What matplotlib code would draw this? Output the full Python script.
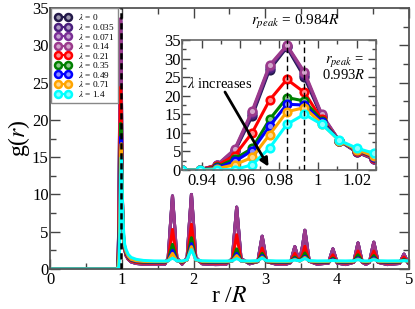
import matplotlib
matplotlib.use("Agg")
import matplotlib.pyplot as plt
from matplotlib.ticker import MultipleLocator, FuncFormatter
import matplotlib.colors as mcolors

plt.rcParams['font.family'] = ['Liberation Serif', 'DejaVu Serif']
plt.rcParams['mathtext.fontset'] = 'stix'

# ---------------- data ----------------
lambdas = ['0', '0.035', '0.071', '0.14', '0.21', '0.35', '0.49', '0.71', '1.4']
colors = ['#241a4a', '#4a1f7e', '#7a2f96', '#9b3a8c', '#ff0000', '#008000',
          '#0000ff', '#ffa500', '#00ffff']

# contact-peak region (inset), r/R
r_in = [0.930, 0.939, 0.948, 0.957, 0.966, 0.975, 0.984, 0.993, 1.002, 1.011, 1.020, 1.029]
g_in_0     = [0, 0.05, 1.2, 5.0, 14.5, 27.0, 33.0, 25.0, 14.3, 7.9, 4.8, 2.9]
g_in_0035  = [0, 0.05, 1.3, 5.2, 15.0, 27.5, 33.3, 25.6, 14.6, 7.9, 4.9, 3.0]
g_in_0071  = [0, 0.05, 1.35, 5.4, 15.5, 27.9, 33.5, 26.0, 14.8, 7.9, 5.0, 3.0]
g_in_014   = [0, 0.05, 1.4, 5.6, 15.9, 28.2, 33.6, 26.4, 15.0, 7.9, 5.0, 3.0]
g_in_021   = [0, 0.05, 1.2, 3.9, 10.0, 18.8, 24.4, 20.9, 13.6, 7.9, 5.2, 3.3]
g_in_035   = [0, 0.05, 0.8, 3.0, 5.8, 13.6, 19.5, 18.6, 13.3, 7.9, 5.3, 3.5]
g_in_049   = [0, 0.05, 0.6, 2.3, 5.2, 11.8, 17.7, 17.5, 13.0, 7.9, 5.4, 3.6]
g_in_071   = [0, 0.05, 0.4, 1.4, 3.4, 9.5, 15.7, 16.8, 12.5, 7.9, 5.5, 3.7]
g_in_14    = [0, 0.0, 0.1, 0.1, 1.4, 5.9, 12.3, 15.0, 12.3, 8.0, 5.9, 4.5]

# far region (main panel only)
r_tail = [1.04, 1.06, 1.09, 1.13, 1.20, 1.30, 1.45, 1.60,
          1.646, 1.676, 1.706, 1.736, 1.766, 1.84,
          1.91, 1.94, 1.97, 2.00, 2.03, 2.12, 2.30, 2.45,
          2.54, 2.57, 2.60, 2.63, 2.66, 2.78,
          2.895, 2.925, 2.955, 2.985, 3.015, 3.15, 3.28,
          3.35, 3.38, 3.41, 3.44, 3.48, 3.52, 3.55, 3.58, 3.61, 3.72,
          3.88, 3.91, 3.94, 3.97, 4.00, 4.12,
          4.23, 4.26, 4.29, 4.32, 4.35, 4.40, 4.45, 4.48, 4.51, 4.54, 4.57, 4.70,
          4.87, 4.90, 4.93, 4.96, 4.99, 5.0]
# lambda <= 0.14 are indistinguishable at this scale
g_tail_low = [2.6, 1.8, 1.3, 0.95, 0.75, 0.65, 0.62, 0.65,
              1.5, 5.75, 9.8, 5.75, 1.5, 0.65,
              1.55, 5.9, 10.0, 5.9, 1.55, 0.7, 0.6, 0.62,
              1.4, 4.9, 8.3, 4.9, 1.4, 0.7,
              1.0, 2.75, 4.4, 2.75, 1.0, 0.65, 0.62,
              0.85, 1.95, 3.0, 2.0, 1.3, 3.2, 5.2, 3.2, 1.05, 0.65,
              0.8, 1.8, 2.7, 1.8, 0.8, 0.6,
              0.9, 2.2, 3.5, 2.2, 0.9, 0.62, 0.9, 2.3, 3.6, 2.3, 0.9, 0.6,
              0.75, 1.4, 2.0, 1.4, 0.75, 0.7]
g_tail_021 = [2.7, 1.9, 1.4, 1.1, 0.9, 0.82, 0.8, 0.82,
              1.25, 3.3, 5.3, 3.3, 1.25, 0.82,
              1.3, 3.7, 6.0, 3.7, 1.3, 0.85, 0.8, 0.82,
              1.2, 2.9, 4.6, 2.9, 1.2, 0.85,
              1.0, 1.9, 2.8, 1.9, 1.0, 0.82, 0.8,
              0.95, 1.5, 2.1, 1.5, 1.15, 2.05, 3.05, 2.05, 1.05, 0.82,
              0.9, 1.4, 1.9, 1.4, 0.9, 0.8,
              0.95, 1.7, 2.4, 1.7, 0.95, 0.82, 0.95, 1.7, 2.4, 1.7, 0.95, 0.8,
              0.88, 1.25, 1.6, 1.25, 0.88, 0.85]
g_tail_035 = [2.9, 2.1, 1.55, 1.2, 1.0, 0.92, 0.9, 0.92,
              1.15, 2.25, 3.3, 2.25, 1.15, 0.92,
              1.25, 2.75, 4.2, 2.75, 1.25, 0.95, 0.9, 0.92,
              1.1, 1.9, 2.7, 1.9, 1.1, 0.92,
              1.0, 1.6, 2.1, 1.6, 1.0, 0.92, 0.9,
              0.97, 1.3, 1.6, 1.3, 1.1, 1.6, 2.15, 1.6, 1.05, 0.92,
              0.95, 1.2, 1.45, 1.2, 0.95, 0.9,
              1.0, 1.45, 1.9, 1.45, 1.0, 0.92, 1.0, 1.4, 1.8, 1.4, 1.0, 0.9,
              0.95, 1.12, 1.3, 1.12, 0.95, 0.93]
g_tail_049 = [3.0, 2.2, 1.6, 1.25, 1.05, 0.97, 0.95, 0.96,
              1.1, 1.82, 2.5, 1.82, 1.1, 0.96,
              1.2, 2.3, 3.4, 2.3, 1.2, 0.98, 0.95, 0.96,
              1.07, 1.6, 2.1, 1.6, 1.07, 0.96,
              1.04, 1.42, 1.8, 1.42, 1.04, 0.96, 0.95,
              1.0, 1.2, 1.4, 1.2, 1.08, 1.37, 1.7, 1.37, 1.03, 0.96,
              0.98, 1.15, 1.3, 1.15, 0.98, 0.95,
              1.0, 1.26, 1.5, 1.26, 1.0, 0.96, 1.0, 1.26, 1.5, 1.26, 1.0, 0.95,
              0.98, 1.09, 1.2, 1.09, 0.98, 0.97]
g_tail_071 = [3.1, 2.3, 1.7, 1.3, 1.1, 1.02, 1.0, 1.0,
              1.1, 1.6, 2.1, 1.6, 1.1, 1.0,
              1.2, 2.1, 3.0, 2.1, 1.2, 1.02, 1.0, 1.0,
              1.08, 1.45, 1.8, 1.45, 1.08, 1.0,
              1.06, 1.34, 1.6, 1.34, 1.06, 1.0, 1.0,
              1.03, 1.17, 1.3, 1.17, 1.07, 1.3, 1.55, 1.3, 1.05, 1.0,
              1.02, 1.11, 1.2, 1.11, 1.02, 1.0,
              1.03, 1.2, 1.35, 1.2, 1.03, 1.0, 1.03, 1.2, 1.35, 1.2, 1.03, 1.0,
              1.02, 1.08, 1.15, 1.08, 1.02, 1.01]
g_tail_14 = [3.3, 2.6, 1.95, 1.55, 1.3, 1.15, 1.08, 1.07,
             1.1, 1.3, 1.45, 1.3, 1.1, 1.08,
             1.25, 1.95, 2.6, 1.95, 1.25, 1.1, 1.07, 1.07,
             1.1, 1.26, 1.4, 1.26, 1.1, 1.08,
             1.12, 1.3, 1.45, 1.3, 1.12, 1.08, 1.08,
             1.09, 1.15, 1.2, 1.15, 1.11, 1.26, 1.4, 1.26, 1.12, 1.08,
             1.09, 1.12, 1.15, 1.12, 1.09, 1.08,
             1.1, 1.18, 1.25, 1.18, 1.1, 1.08, 1.1, 1.18, 1.25, 1.18, 1.1, 1.08,
             1.09, 1.1, 1.12, 1.1, 1.09, 1.09]

g_inset = [g_in_0, g_in_0035, g_in_0071, g_in_014, g_in_021, g_in_035,
           g_in_049, g_in_071, g_in_14]
g_tails = [g_tail_low, g_tail_low, g_tail_low, g_tail_low, g_tail_021,
           g_tail_035, g_tail_049, g_tail_071, g_tail_14]

r_peak_a = 0.984
r_peak_b = 0.993

# ---------------- figure ----------------
fig = plt.figure(figsize=(4.15, 3.09), dpi=100)
ax = fig.add_axes([0.1205, 0.1294, 0.865, 0.8446])

def tint(c, f=0.55):
    rgb = mcolors.to_rgb(c)
    return tuple(v + (1 - v) * f for v in rgb)

for lam, col, gi, gt in zip(lambdas, colors, g_inset, g_tails):
    r_full = [0.0] + r_in + r_tail
    g_full = [0.0] + gi + gt
    ax.plot(r_full, g_full, color=col, lw=2.2, solid_joinstyle='round')
    # legend proxy
    ax.plot([], [], color=col, lw=1.5, marker='o', ms=5.0, mfc=tint(col),
            mec=col, mew=1.8, label=r'$\lambda$ = ' + lam)

ax.axvline(0.99, color='black', lw=1.8, ls=(0, (2.5, 1.5)), zorder=10)

ax.set_xlim(0, 5)
ax.set_ylim(0, 35)
ax.xaxis.set_major_locator(MultipleLocator(1))
ax.xaxis.set_minor_locator(MultipleLocator(0.5))
ax.yaxis.set_major_locator(MultipleLocator(5))
ax.yaxis.set_minor_locator(MultipleLocator(2.5))
ax.tick_params(which='both', direction='in', top=True, right=True,
               color='#444444', labelsize=12)
ax.tick_params(which='major', length=7, width=1)
ax.tick_params(which='minor', length=4, width=1)
ax.tick_params(axis='x', pad=2)
ax.tick_params(axis='y', pad=1)
for s in ax.spines.values():
    s.set_color('#555555')
    s.set_linewidth(1.3)

ax.set_xlabel(r'r /$R$', fontsize=17, labelpad=-1)
ax.set_ylabel(r'g($r$)', fontsize=17, labelpad=0)

leg = ax.legend(loc='upper left', bbox_to_anchor=(0.003, 0.999), fontsize=6.7,
                numpoints=2, labelspacing=-0.05, handlelength=1.7,
                handletextpad=0.7, borderpad=0.45, borderaxespad=0,
                fancybox=False, framealpha=1, edgecolor='#888888')
leg.get_frame().set_linewidth(1.0)
leg.set_zorder(20)

# ---------------- inset ----------------
axi = fig.add_axes([0.4395, 0.4498, 0.4665, 0.4207])
for lam, col, gi in zip(lambdas, colors, g_inset):
    axi.plot(r_in, gi, color=col, lw=2.2, marker='o', ms=5.5, mfc=tint(col),
             mec=col, mew=1.8)
axi.axvline(r_peak_a, color='black', lw=1.0, ls=(0, (4, 2.5)), zorder=10)
axi.axvline(r_peak_b, color='black', lw=1.0, ls=(0, (4, 2.5)), zorder=10)
axi.set_xlim(0.93, 1.03)
axi.set_ylim(0, 35)
axi.xaxis.set_major_locator(MultipleLocator(0.02))
axi.xaxis.set_minor_locator(MultipleLocator(0.01))
axi.yaxis.set_major_locator(MultipleLocator(5))
axi.yaxis.set_minor_locator(MultipleLocator(2.5))
axi.xaxis.set_major_formatter(FuncFormatter(lambda v, p: ('%.2f' % v).rstrip('0').rstrip('.')))
axi.tick_params(which='both', direction='in', top=True, right=True,
                color='#444444', labelsize=12)
axi.tick_params(which='major', length=6, width=1)
axi.tick_params(which='minor', length=3, width=1)
axi.tick_params(axis='x', pad=2)
axi.tick_params(axis='y', pad=1)
for s in axi.spines.values():
    s.set_color('#666666')
    s.set_linewidth(1.2)

axi.text(0.9495, 23.4, r'$\lambda$ increases', fontsize=10.5, ha='center', va='center')
axi.annotate('', xy=(0.9745, 0.9), xytext=(0.952, 21.0),
             arrowprops=dict(arrowstyle='-|>', color='black', lw=2,
                             mutation_scale=12, shrinkA=0, shrinkB=0))
axi.text(1.0135, 27.5, r'$r_{peak}$ =' + '\n' + r'0.993$R$', fontsize=10.5,
         ha='center', va='center', linespacing=0.95)

fig.text(0.711, 0.928, r'$r_{peak}$ = 0.984$R$', fontsize=11, ha='center',
         va='center')

fig.savefig('out.png', dpi=100)
